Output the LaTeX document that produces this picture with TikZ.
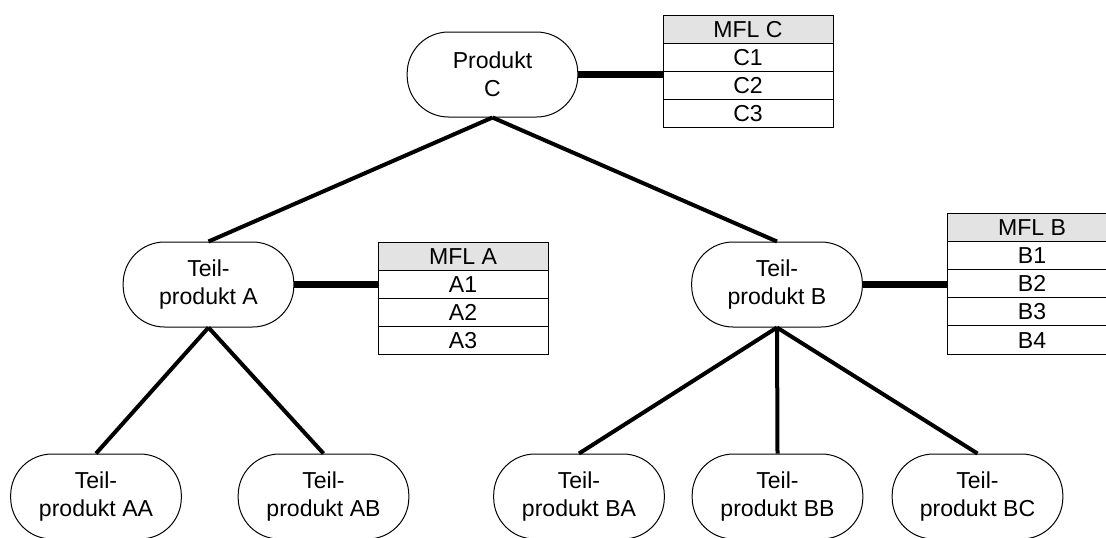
\documentclass[tikz,border=0pt]{standalone}
\usepackage{fontspec}
\setmainfont{Liberation Sans}
\begin{document}
\begin{tikzpicture}[x=0.75pt,y=-0.75pt,
  txt/.style={font=\fontsize{17.3}{21.3}\selectfont},
  part/.style={txt, draw, line width=0.75pt, rounded corners=31pt,
    minimum width=128pt, minimum height=63.75pt, align=center, inner sep=0pt},
  cell/.style={txt, draw, line width=0.75pt, minimum width=127.5pt,
    minimum height=21.15pt, inner sep=0pt, text height=12.3pt, text depth=0pt},
  head/.style={cell, fill=gray!22},
  link/.style={line width=3pt},
  bond/.style={line width=5.5pt}]
\useasboundingbox (0,0) rectangle (1106,537);
\clip (0,0) rectangle (1106,537);

% product structure
\node[part] (C)  at (492.5,74.5) {Produkt\\C};
\node[part] (A)  at (208.5,284.5) {Teil-\\produkt A};
\node[part] (B)  at (777,284.5) {Teil-\\produkt B};
\node[part] (AA) at (96,496.5) {Teil-\\produkt AA};
\node[part] (AB) at (323.5,496.5) {Teil-\\produkt AB};
\node[part] (BA) at (579,496.5) {Teil-\\produkt BA};
\node[part] (BB) at (777.5,496.5) {Teil-\\produkt BB};
\node[part] (BC) at (977.5,496.5) {Teil-\\produkt BC};

% feature lists
\node[head] (MC) at (748,29.1) {MFL C};
\foreach \t [count=\i] in {C1,C2,C3}
  \node[cell] (MC\i) at (748,29.1+28.2*\i) {\t};
\node[head] (MA) at (463,256.1) {MFL A};
\foreach \t [count=\i] in {A1,A2,A3}
  \node[cell] (MA\i) at (463,256.1+28.2*\i) {\t};
\node[head] (MB) at (1032,227.1) {MFL B};
\foreach \t [count=\i] in {B1,B2,B3,B4}
  \node[cell] (MB\i) at (1032,227.1+28.2*\i) {\t};

% hierarchy
\draw[link] (C.south) -- (A.north);
\draw[link] (C.south) -- (B.north);
\draw[link] (A.south) -- (AA.north);
\draw[link] (A.south) -- (AB.north);
\draw[link] (B.south) -- (BA.north);
\draw[link] (B.south) -- (BB.north);
\draw[link] (B.south) -- (BC.north);

% attachments to feature lists
\draw[bond] (C.east) -- (C.east -| MC.west);
\draw[bond] (A.east) -- (A.east -| MA.west);
\draw[bond] (B.east) -- (B.east -| MB.west);
\end{tikzpicture}
\end{document}
